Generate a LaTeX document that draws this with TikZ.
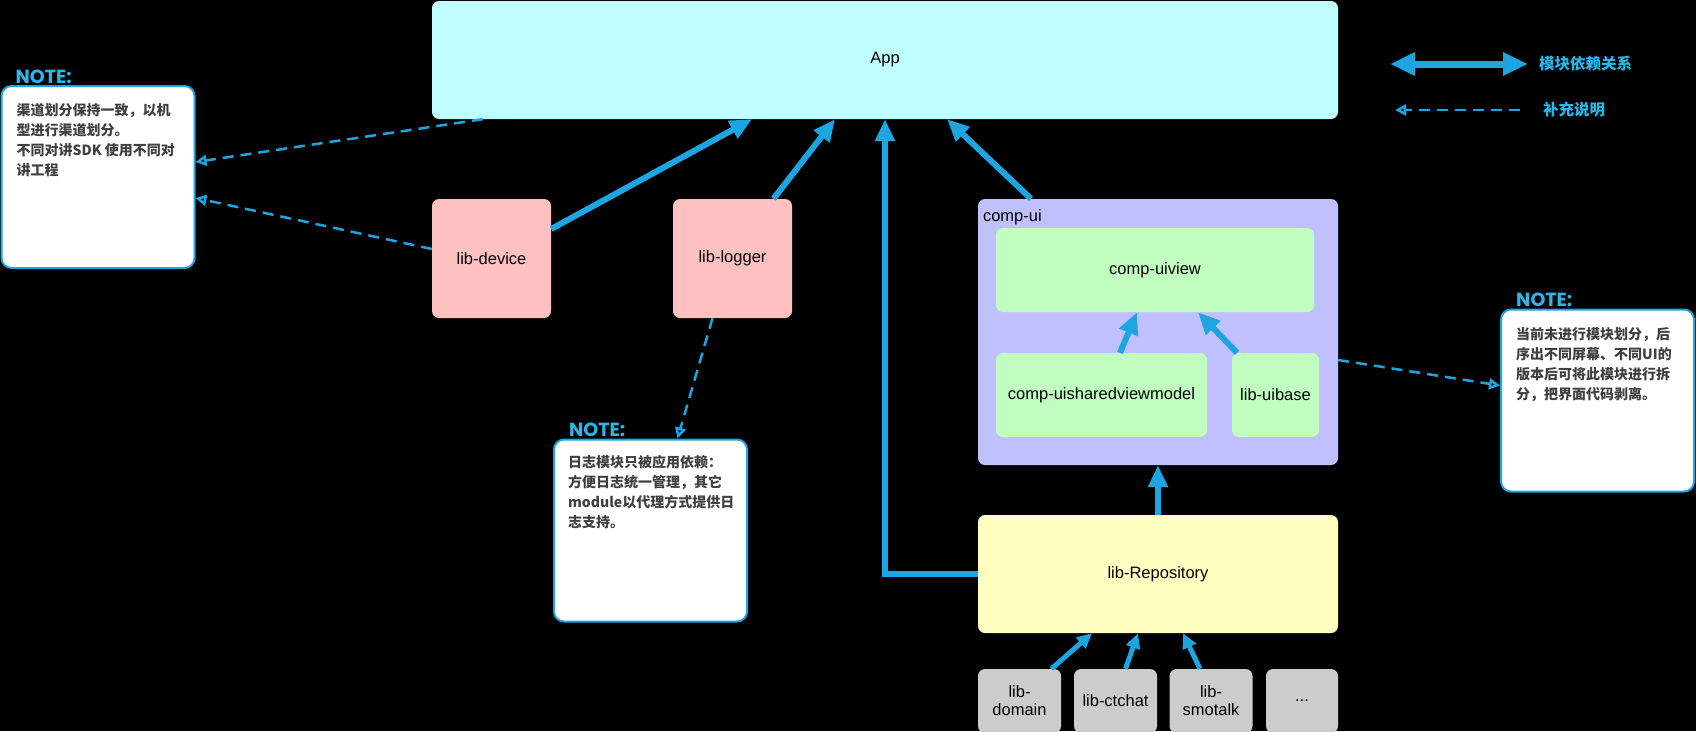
\documentclass[tikz,border=0pt]{standalone}
\usepackage{fontspec}
\setmainfont{Liberation Sans}
\newfontfamily\cjk{Noto Sans CJK SC}
\newfontfamily\notefont{Poppins}
\usetikzlibrary{arrows.meta}

\definecolor{depblue}{HTML}{1DA5E1}
\definecolor{notecyan}{HTML}{2BB5E8}
\definecolor{notegray}{HTML}{404040}
\definecolor{appcyan}{HTML}{C0FFFF}
\definecolor{libpink}{HTML}{FFC0C0}
\definecolor{uipurple}{HTML}{C0C0FF}
\definecolor{uigreen}{HTML}{C0FFC0}
\definecolor{repoyellow}{HTML}{FFFFC0}
\definecolor{modgray}{HTML}{CCCCCC}

\tikzset{
  module/.style={rounded corners=7pt, inner sep=0pt, align=center,
    font=\fontsize{16.5}{18}\selectfont},
  notebox/.style={draw=depblue, line width=2pt, fill=white, rounded corners=10pt,
    minimum width=193pt, minimum height=182pt, inner sep=0pt},
  notetitle/.style={anchor=base west, inner sep=0pt, text=notecyan,
    font=\notefont\bfseries\fontsize{19}{19}\selectfont},
  notetext/.style={anchor=north west, inner sep=0pt, align=left, text=notegray,
    font=\cjk\bfseries\fontsize{14}{20}\selectfont},
  legendtext/.style={anchor=west, inner sep=0pt, text=notecyan,
    font=\cjk\bfseries\fontsize{15.5}{16}\selectfont},
  dep/.style={draw=depblue, line width=6pt, -{Triangle[length=22pt,width=19pt]}},
  depsmall/.style={draw=depblue, line width=5pt, -{Triangle[length=15pt,width=14pt]}},
  remark/.style={draw=depblue, line width=2.5pt, dash pattern=on 11pt off 7pt,
    -{Triangle[open,length=11pt,width=11pt]}}
}

\begin{document}
\begin{tikzpicture}[x=1pt,y=-1pt]

  \path[use as bounding box, fill=black] (0,0) rectangle (1696,731);

  \begin{scope}[every node/.style={module}]
    \node[fill=appcyan, minimum width=906pt, minimum height=118pt] (app) at (885,60) {App};
    \node[fill=libpink, minimum width=119pt, minimum height=119pt] (device) at (491.5,258.5) {lib-device};
    \node[fill=libpink, minimum width=119pt, minimum height=119pt] (logger) at (732.5,258.5) {lib-logger};
    \node[fill=uipurple, minimum width=360pt, minimum height=266pt] (compui) at (1158,332) {};
    \node[anchor=west] (compuilbl) at ([xshift=5pt,yshift=-18pt]compui.north west) {comp-ui};
    \node[fill=uigreen, minimum width=318pt, minimum height=84pt] (uiview) at (1155,270) {comp-uiview};
    \node[fill=uigreen, minimum width=211pt, minimum height=84pt] (sharedvm) at (1101.5,395) {comp-uisharedviewmodel};
    \node[fill=uigreen, minimum width=87pt, minimum height=84pt] (uibase) at (1275.5,395) {lib-uibase};
    \node[fill=repoyellow, minimum width=360pt, minimum height=118pt] (repo) at (1158,574) {lib-Repository};
    \node[fill=modgray, minimum width=83pt, minimum height=64pt] (domain) at (1019.5,701) {lib-\\domain};
    \node[fill=modgray, minimum width=83pt, minimum height=64pt] (ctchat) at (1115.5,701) {lib-ctchat};
    \node[fill=modgray, minimum width=83pt, minimum height=64pt] (smotalk) at (1211,701) {lib-\\smotalk};
    \node[fill=modgray, minimum width=72pt, minimum height=64pt] (more) at (1302,701) {...};
  \end{scope}

  \begin{scope}[every node/.style={notebox}]
    \node (note1) at (98,177) {};
    \node (note2) at (650.5,530.5) {};
    \node (note3) at (1597.5,400.5) {};
  \end{scope}

  \node[notetitle] (note1title) at ([xshift=15pt,yshift=2pt]note1.north west) {NOTE:};
  \node[notetitle] (note2title) at ([xshift=16pt,yshift=2pt]note2.north west) {NOTE:};
  \node[notetitle] (note3title) at ([xshift=16pt,yshift=2pt]note3.north west) {NOTE:};

  \node[notetext] (note1text) at ([xshift=16pt,yshift=-18pt]note1.north west)
    {渠道划分保持一致，以机\\型进行渠道划分。\\不同对讲SDK 使用不同对\\讲工程};
  \node[notetext] (note2text) at ([xshift=15pt,yshift=-17pt]note2.north west)
    {日志模块只被应用依赖：\\方便日志统一管理，其它\\module以代理方式提供日\\志支持。};
  \node[notetext] (note3text) at ([xshift=16pt,yshift=-19pt]note3.north west)
    {当前未进行模块划分，后\\序出不同屏幕、不同UI的\\版本后可将此模块进行拆\\分，把界面代码剥离。};

  \path[dep] ([yshift=29.5pt]device.east) -- ([xshift=-133pt]app.south);
  \path[dep] ([xshift=41pt]logger.north) -- ([xshift=-50pt]app.south);
  \path[dep] (repo.west) -| (app.south);
  \path[dep] ([xshift=-127pt]compui.north) -- ([xshift=62pt]app.south);
  \path[dep] (repo.north) -- (compui.south);
  \path[dep] ([xshift=18.5pt]sharedvm.north) -- ([xshift=-18pt]uiview.south);
  \path[dep] ([xshift=-38.5pt]uibase.north) -- ([xshift=43pt]uiview.south);
  \path[depsmall] ([xshift=32pt]domain.north) -- ([xshift=-66pt]repo.south);
  \path[depsmall] ([xshift=10pt]ctchat.north) -- ([xshift=-20pt]repo.south);
  \path[depsmall] ([xshift=-11pt]smotalk.north) -- ([xshift=25pt]repo.south);

  \path[remark] ([xshift=51pt]app.south west) -- ([yshift=15pt]note1.east);
  \path[remark] ([yshift=9.5pt]device.west) -- ([yshift=-21pt]note1.east);
  \path[remark] ([xshift=-20pt]logger.south) -- ([xshift=27pt]note2.north);
  \path[remark] ([yshift=-28pt]compui.east) -- ([yshift=15pt]note3.west);

  \coordinate (legdepL) at (1390,64);
  \coordinate (legdepR) at (1528,64);
  \coordinate (legremL) at (1395,110);
  \coordinate (legremR) at (1520,110);
  \node[legendtext] (legdep) at (1539,64) {模块依赖关系};
  \node[legendtext] (legrem) at (1543,110) {补充说明};
  \path[draw=depblue, line width=7pt,
    {Triangle[length=25pt,width=22pt]}-{Triangle[length=25pt,width=22pt]}] (legdepL) -- (legdepR);
  \path[remark] (legremR) -- (legremL);

\end{tikzpicture}
\end{document}
